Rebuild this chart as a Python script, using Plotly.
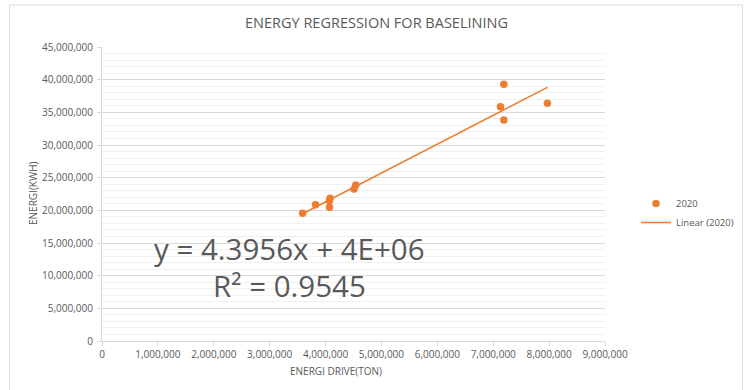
import numpy as np
import plotly.graph_objects as go

# Data
series_name = "2020"
drive_ton = [3590000, 3820000, 4080000, 4070000, 4070000, 4540000, 4510000,
             7130000, 7190000, 7190000, 7970000]
energy_kwh = [19550000, 20860000, 21840000, 21480000, 20460000, 23880000, 23270000,
              35870000, 39290000, 33830000, 36380000]
equation_text = "y = 4.3956x + 4E+06"
r2_text = "R² = 0.9545"
title_text = "ENERGY REGRESSION FOR BASELINING"
x_title = "ENERGI DRIVE(TON)"
y_title = "ENERGI(KWH)"

x = np.array(drive_ton, dtype=float)
y = np.array(energy_kwh, dtype=float)
slope, intercept = np.polyfit(x, y, 1)
x_line = np.array([x.min(), x.max()])
y_line = slope * x_line + intercept

ORANGE = "#ED7D31"
TXT = "#595959"
FONT = "Open Sans"

fig = go.Figure()
fig.add_trace(go.Scatter(x=x, y=y, mode="markers", name=series_name,
                         marker=dict(color=ORANGE, size=7.5)))
fig.add_trace(go.Scatter(x=x_line, y=y_line, mode="lines", name="Linear (2020)",
                         line=dict(color=ORANGE, width=1.5)))

L, R, T, B = 102, 142, 47, 49
W, H = 747, 390
pw, ph = W - L - R, H - T - B

def px(xpix):
    return (xpix - L) / pw

def py(ypix):
    return (H - B - ypix) / ph

fig.update_layout(
    width=W, height=H,
    margin=dict(l=L, r=R, t=T, b=B, autoexpand=False),
    paper_bgcolor="white", plot_bgcolor="white",
    font=dict(family=FONT, color=TXT, size=9),
    showlegend=True,
    legend=dict(x=px(636), y=py(189), xanchor="left", yanchor="top",
                font=dict(size=9.5, color=TXT), itemwidth=30,
                bgcolor="rgba(0,0,0,0)", tracegroupgap=0),
    xaxis=dict(range=[0, 9000000], tick0=0, dtick=1000000, tickformat=",d",
               showgrid=False, zeroline=False, showline=True,
               linecolor="#d9d9d9", linewidth=1, ticks="outside",
               ticklen=4, tickcolor="#d9d9d9", automargin=False,
               tickfont=dict(size=10, color=TXT, family=FONT)),
    yaxis=dict(range=[0, 45000000], tick0=0, dtick=5000000, tickformat=",d",
               showgrid=True, gridcolor="#d9d9d9", gridwidth=1,
               zeroline=False, showline=True, linecolor="#d9d9d9", linewidth=1,
               ticks="outside", ticklen=4, tickcolor="#d9d9d9", automargin=False,
               ticklabelstandoff=2,
               tickfont=dict(size=10, color=TXT, family=FONT),
               minor=dict(dtick=1000000, showgrid=True, gridcolor="#f0f0f0",
                          gridwidth=1)),
)

def label(text, xp, yp, size, angle=0):
    fig.add_annotation(text=text, xref="paper", yref="paper",
                       x=px(xp), y=py(yp), xanchor="center", yanchor="middle",
                       showarrow=False, textangle=angle,
                       font=dict(size=size, color=TXT, family=FONT))

label(title_text, 376, 23, 14.5)
label(x_title, 336, 371, 10)
label(y_title, 33, 193, 10, -90)
label(equation_text, 289, 248, 29.5)
label(r2_text, 289, 285, 29.5)

fig.add_shape(type="rect", xref="paper", yref="paper",
              x0=px(9.5), x1=px(742.5), y0=py(395), y1=py(5),
              line=dict(color="#d9d9d9", width=1), fillcolor="rgba(0,0,0,0)",
              layer="below")

fig.write_html("out.html")
